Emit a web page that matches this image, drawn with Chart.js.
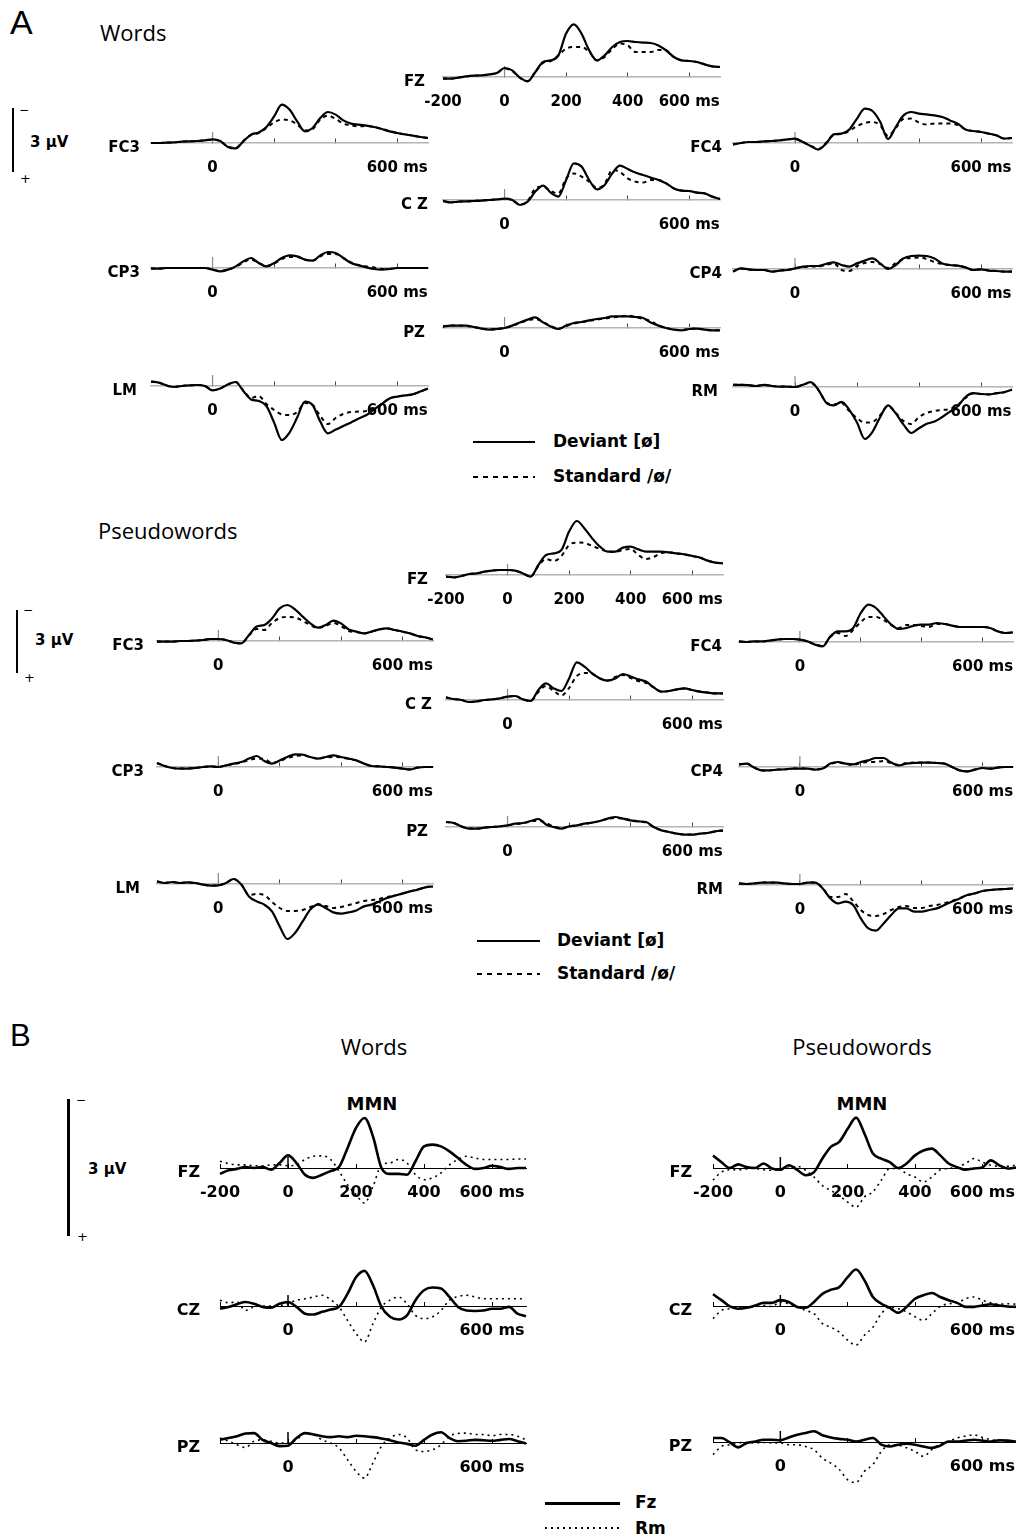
<!DOCTYPE html>
<html>
<head>
<meta charset="utf-8">
<script src="https://cdn.jsdelivr.net/npm/chart.js@4.4.1/dist/chart.umd.min.js"></script>
<style>
body { margin: 0; background: #fff; }
#page { position: relative; width: 1016px; height: 1539px; overflow: hidden; background: #fff; font-family: "DejaVu Sans", sans-serif; color: #000; }
.t { position: absolute; white-space: nowrap; }
.b { font-weight: bold; }
.big { font-family: "Liberation Sans", Arial, sans-serif; }
.head { font-family: "Open Sans", sans-serif; font-size: 22px; line-height: 22px; }
.leg { font-weight: bold; font-size: 17px; line-height: 17px; }
.bar { position: absolute; background: #000; }
canvas { position: absolute; }
</style>
</head>
<body>
<div id="page">
  <!-- panel A, words -->
  <div class="t big" style="left:10px;top:5px;font-size:34px;line-height:34px">A</div>
  <div class="t head" style="left:100px;top:21px">Words</div>
  <div class="bar" style="left:12px;top:108px;width:2px;height:64px"></div>
  <div class="t" style="left:19px;top:104px;font-size:12px;line-height:12px">−</div>
  <div class="t" style="left:20px;top:172px;font-size:13px;line-height:13px">+</div>
  <div class="t b" style="left:30px;top:135px;font-size:15px;line-height:15px">3 µV</div>
  <div class="bar" style="left:473px;top:441px;width:62px;height:2px"></div>
  <div class="t leg" style="left:553px;top:433px">Deviant [ø]</div>
  <div class="bar" style="left:473px;top:476px;width:62px;height:2px;background:repeating-linear-gradient(90deg,#000 0 5px,transparent 5px 10px)"></div>
  <div class="t leg" style="left:553px;top:468px">Standard /ø/</div>

  <!-- panel A, pseudowords -->
  <div class="t head" style="left:98px;top:519px">Pseudowords</div>
  <div class="bar" style="left:16px;top:610px;width:2px;height:63px"></div>
  <div class="t" style="left:23px;top:604px;font-size:12px;line-height:12px">−</div>
  <div class="t" style="left:24px;top:671px;font-size:13px;line-height:13px">+</div>
  <div class="t b" style="left:35px;top:633px;font-size:15px;line-height:15px">3 µV</div>
  <div class="bar" style="left:477px;top:940px;width:63px;height:2px"></div>
  <div class="t leg" style="left:557px;top:932px">Deviant [ø]</div>
  <div class="bar" style="left:477px;top:973px;width:63px;height:2px;background:repeating-linear-gradient(90deg,#000 0 5px,transparent 5px 10px)"></div>
  <div class="t leg" style="left:557px;top:965px">Standard /ø/</div>

  <!-- panel B -->
  <div class="t big" style="left:10px;top:1020px;font-size:31px;line-height:31px">B</div>
  <div class="t head" style="left:274px;top:1035px;width:200px;text-align:center">Words</div>
  <div class="t head" style="left:762px;top:1035px;width:200px;text-align:center">Pseudowords</div>
  <div class="t b" style="left:322px;top:1095px;width:100px;text-align:center;font-size:18px;line-height:18px">MMN</div>
  <div class="t b" style="left:812px;top:1095px;width:100px;text-align:center;font-size:18px;line-height:18px">MMN</div>
  <div class="bar" style="left:67px;top:1099px;width:2.5px;height:137px"></div>
  <div class="t" style="left:76px;top:1094px;font-size:12px;line-height:12px">−</div>
  <div class="t" style="left:77px;top:1230px;font-size:13px;line-height:13px">+</div>
  <div class="t b" style="left:88px;top:1162px;font-size:15px;line-height:15px">3 µV</div>
  <div class="bar" style="left:545px;top:1502px;width:75px;height:2.5px"></div>
  <div class="t leg" style="left:635px;top:1494px">Fz</div>
  <div class="bar" style="left:545px;top:1527px;width:75px;height:2px;background:repeating-linear-gradient(90deg,#000 0 2px,transparent 2px 6px)"></div>
  <div class="t leg" style="left:635px;top:1520px">Rm</div>
</div>

<script>
// time axis, ms
const times = [-200, -175, -150, -125, -100, -75, -50, -25, 0, 25, 50, 75, 100, 125, 150, 175, 200, 225, 250, 275, 300, 325, 350, 375, 400, 425, 450, 475, 500, 525, 550, 575, 600, 625, 650, 675, 700];
const tickValues = [-200, 0, 200, 400, 600];
const tickLabelsFull = ['-200', '0', '200', '400', '600 ms'];
const tickLabelsShort = ['', '0', '', '', '600 ms'];

// A, words: deviant [ø] / standard /ø/ (µV, negative plotted up)
const wordsFZDev = [0.08, 0.08, 0.03, -0.03, -0.07, -0.08, -0.13, -0.2, -0.45, -0.33, 0.03, 0.22, -0.25, -0.75, -0.83, -1.08, -2.17, -2.63, -2.17, -1.33, -0.83, -1.08, -1.5, -1.75, -1.8, -1.75, -1.72, -1.7, -1.58, -1.33, -1.0, -0.83, -0.8, -0.75, -0.63, -0.53, -0.5];
const wordsFZStd = [0.08, 0.08, 0.03, -0.03, -0.07, -0.08, -0.13, -0.2, -0.42, -0.3, 0.05, 0.2, -0.25, -0.7, -0.8, -1.08, -1.42, -1.5, -1.5, -1.25, -0.83, -1.0, -1.4, -1.67, -1.58, -1.25, -1.25, -1.25, -1.35, -1.33, -1.0, -0.83, -0.8, -0.75, -0.63, -0.53, -0.5];
const wordsFC3Dev = [0, 0, -0.02, -0.03, -0.07, -0.08, -0.1, -0.13, -0.18, -0.1, 0.2, 0.27, -0.08, -0.42, -0.53, -0.8, -1.33, -1.92, -1.67, -1.08, -0.58, -0.75, -1.25, -1.55, -1.42, -1.13, -0.97, -0.92, -0.87, -0.8, -0.7, -0.58, -0.5, -0.43, -0.37, -0.3, -0.25];
const wordsFC3Std = [0, 0, -0.02, -0.03, -0.07, -0.08, -0.1, -0.13, -0.17, -0.08, 0.18, 0.25, -0.1, -0.4, -0.5, -0.75, -1.03, -1.17, -1.13, -0.92, -0.63, -0.7, -1.17, -1.37, -1.2, -0.97, -0.87, -0.83, -0.85, -0.8, -0.7, -0.6, -0.5, -0.43, -0.37, -0.3, -0.25];
const wordsFC4Dev = [0.08, 0, -0.05, -0.05, -0.08, -0.1, -0.13, -0.18, -0.22, -0.05, 0.15, 0.33, 0.03, -0.43, -0.47, -0.67, -1.22, -1.72, -1.6, -1.05, -0.2, -0.8, -1.38, -1.55, -1.47, -1.43, -1.38, -1.3, -1.13, -0.97, -0.67, -0.6, -0.55, -0.47, -0.38, -0.22, -0.25];
const wordsFC4Std = [0.08, 0, -0.05, -0.05, -0.08, -0.1, -0.13, -0.18, -0.2, -0.05, 0.13, 0.3, 0, -0.4, -0.45, -0.6, -0.85, -1.0, -1.05, -0.88, -0.35, -0.75, -1.2, -1.22, -1.02, -0.92, -0.97, -0.97, -0.97, -0.9, -0.67, -0.6, -0.55, -0.47, -0.38, -0.22, -0.25];
const wordsCZDev = [0.05, 0.12, 0.08, 0.07, 0.05, 0.03, 0, -0.03, -0.07, 0, 0.25, 0.08, -0.42, -0.72, -0.37, -0.17, -1.0, -1.83, -1.67, -1.0, -0.53, -0.75, -1.33, -1.72, -1.55, -1.37, -1.25, -1.12, -1.0, -0.83, -0.58, -0.47, -0.45, -0.37, -0.33, -0.17, -0.05];
const wordsCZStd = [0.05, 0.12, 0.08, 0.07, 0.05, 0.03, 0, -0.03, -0.07, 0, 0.22, 0.05, -0.58, -0.67, -0.45, -0.33, -1.08, -1.33, -1.17, -0.92, -0.6, -0.8, -1.5, -1.4, -1.08, -0.92, -0.87, -1.0, -1.0, -0.83, -0.58, -0.47, -0.45, -0.37, -0.33, -0.17, -0.05];
const wordsCP3Dev = [0.03, 0.03, 0, 0, 0, 0, 0, 0, 0.08, 0.17, 0.08, -0.08, -0.33, -0.5, -0.25, -0.08, -0.25, -0.5, -0.63, -0.58, -0.42, -0.37, -0.63, -0.8, -0.75, -0.5, -0.25, -0.13, -0.03, 0.05, 0.08, 0.05, 0, 0, 0, 0, 0];
const wordsCP3Std = [0.03, 0.03, 0, 0, 0, 0, 0, 0, 0.08, 0.15, 0.08, -0.05, -0.28, -0.42, -0.25, -0.1, -0.22, -0.45, -0.55, -0.55, -0.42, -0.37, -0.58, -0.7, -0.7, -0.5, -0.28, -0.15, -0.08, -0.03, 0.05, 0.05, 0, 0, 0, 0, 0];
const wordsCP4Dev = [0.13, -0.03, 0.02, 0.05, 0.05, 0.13, 0.08, 0.05, -0.03, -0.12, -0.15, -0.15, -0.25, -0.33, -0.2, -0.12, -0.28, -0.42, -0.53, -0.28, 0, -0.2, -0.53, -0.65, -0.67, -0.65, -0.53, -0.28, -0.2, -0.17, -0.08, 0.05, 0.02, 0.08, 0.1, 0.13, 0.13];
const wordsCP4Std = [0.13, -0.03, 0.02, 0.05, 0.05, 0.13, 0.08, 0.05, -0.03, -0.1, -0.12, -0.12, -0.2, -0.28, 0.05, 0.1, -0.15, -0.3, -0.35, -0.25, -0.05, -0.3, -0.5, -0.55, -0.58, -0.5, -0.35, -0.25, -0.2, -0.17, -0.08, 0.05, 0.02, 0.08, 0.1, 0.13, 0.13];
const wordsPZDev = [-0.08, -0.12, -0.12, -0.12, -0.05, 0.03, 0.08, 0.05, 0, -0.12, -0.28, -0.42, -0.53, -0.28, -0.08, 0.05, -0.12, -0.25, -0.3, -0.38, -0.45, -0.5, -0.58, -0.58, -0.58, -0.55, -0.5, -0.28, -0.12, 0, 0.08, 0.12, 0.05, 0.03, 0.08, 0.12, 0.12];
const wordsPZStd = [-0.08, -0.12, -0.12, -0.1, -0.05, 0.03, 0.07, 0.05, 0, -0.1, -0.25, -0.38, -0.45, -0.3, -0.1, 0.03, -0.1, -0.22, -0.3, -0.35, -0.42, -0.48, -0.52, -0.58, -0.62, -0.55, -0.45, -0.35, -0.12, 0, 0.08, 0.1, 0.05, 0.03, 0.08, 0.1, 0.12];
const wordsLMDev = [-0.22, -0.17, -0.03, 0.05, 0, -0.03, -0.05, 0, 0.22, 0.12, -0.08, -0.2, 0.25, 0.67, 0.75, 1.0, 1.83, 2.7, 2.33, 1.58, 0.78, 0.95, 1.78, 2.37, 2.18, 2.0, 1.82, 1.63, 1.45, 1.17, 0.9, 0.62, 0.53, 0.47, 0.42, 0.28, 0.12];
const wordsLMStd = [-0.22, -0.17, -0.03, 0.05, 0, -0.03, -0.05, 0, 0.2, 0.12, -0.08, -0.2, 0.22, 0.6, 0.5, 0.9, 1.2, 1.42, 1.45, 1.3, 0.85, 0.95, 1.5, 1.9, 1.6, 1.4, 1.3, 1.28, 1.25, 1.15, 0.9, 0.62, 0.53, 0.47, 0.42, 0.28, 0.12];
const wordsRMDev = [-0.11, -0.11, -0.09, -0.05, -0.11, -0.05, -0.02, -0.02, 0, -0.11, -0.24, 0.13, 0.77, 0.92, 0.74, 1.14, 1.78, 2.6, 2.24, 1.5, 0.92, 1.32, 1.88, 2.3, 2.06, 1.84, 1.73, 1.5, 1.23, 0.96, 0.5, 0.31, 0.35, 0.37, 0.31, 0.26, 0.13];
const wordsRMStd = [-0.11, -0.11, -0.09, -0.05, -0.11, -0.05, -0.02, -0.02, 0, -0.11, -0.22, 0.15, 0.75, 0.88, 0.8, 1.2, 1.55, 1.78, 1.75, 1.4, 0.95, 1.3, 1.7, 1.85, 1.5, 1.3, 1.2, 1.15, 1.1, 0.9, 0.55, 0.31, 0.35, 0.37, 0.31, 0.26, 0.13];

// A, pseudowords
const pseudoFZDev = [0.08, 0.12, 0.05, -0.05, -0.08, -0.17, -0.22, -0.25, -0.25, -0.22, -0.08, 0.08, -0.5, -1.0, -1.08, -1.25, -2.17, -2.7, -2.33, -1.83, -1.42, -1.17, -1.17, -1.37, -1.42, -1.28, -1.17, -1.17, -1.17, -1.13, -1.08, -1.03, -0.95, -0.87, -0.72, -0.62, -0.58];
const pseudoFZStd = [0.08, 0.12, 0.05, -0.05, -0.08, -0.17, -0.22, -0.25, -0.25, -0.22, -0.08, 0.08, -0.45, -0.8, -0.7, -0.95, -1.5, -1.62, -1.6, -1.45, -1.3, -1.17, -1.15, -1.25, -1.3, -1.0, -0.8, -0.9, -1.1, -1.13, -1.08, -1.03, -0.95, -0.87, -0.72, -0.62, -0.58];
const pseudoFC3Dev = [0.03, 0.03, 0.03, 0, 0, -0.02, -0.05, -0.1, -0.1, -0.05, 0.08, 0.12, -0.3, -0.72, -0.8, -1.13, -1.63, -1.8, -1.58, -1.22, -0.88, -0.67, -0.8, -1.02, -0.88, -0.58, -0.47, -0.38, -0.47, -0.58, -0.63, -0.55, -0.47, -0.38, -0.25, -0.18, -0.08];
const pseudoFC3Std = [0.03, 0.03, 0.03, 0, 0, -0.02, -0.05, -0.1, -0.1, -0.05, 0.08, 0.12, -0.28, -0.6, -0.55, -0.9, -1.15, -1.2, -1.18, -1.0, -0.8, -0.65, -0.75, -0.9, -0.75, -0.5, -0.45, -0.38, -0.47, -0.58, -0.63, -0.55, -0.47, -0.38, -0.25, -0.18, -0.08];
const pseudoFC4Dev = [-0.03, 0, -0.03, -0.03, -0.07, -0.12, -0.15, -0.15, -0.12, -0.03, 0.13, 0.22, -0.28, -0.53, -0.53, -0.7, -1.45, -1.87, -1.7, -1.28, -0.87, -0.65, -0.7, -0.82, -0.87, -0.87, -0.95, -0.9, -0.82, -0.75, -0.75, -0.75, -0.75, -0.7, -0.53, -0.45, -0.48];
const pseudoFC4Std = [-0.03, 0, -0.03, -0.03, -0.07, -0.12, -0.15, -0.15, -0.12, -0.03, 0.12, 0.2, -0.25, -0.45, -0.3, -0.6, -1.0, -1.25, -1.25, -1.1, -0.85, -0.7, -0.85, -0.85, -0.8, -0.75, -0.9, -0.9, -0.82, -0.75, -0.75, -0.75, -0.75, -0.7, -0.53, -0.45, -0.48];
const pseudoCZDev = [-0.13, -0.05, 0, 0.1, 0.07, 0, -0.03, -0.08, -0.17, -0.2, -0.03, 0.05, -0.5, -0.83, -0.58, -0.45, -1.08, -1.88, -1.67, -1.33, -1.08, -0.97, -1.08, -1.3, -1.17, -1.03, -0.92, -0.63, -0.42, -0.45, -0.53, -0.58, -0.5, -0.42, -0.37, -0.33, -0.33];
const pseudoCZStd = [-0.13, -0.05, 0, 0.1, 0.07, 0, -0.03, -0.08, -0.17, -0.2, -0.03, 0.05, -0.4, -0.7, -0.45, -0.22, -0.6, -1.2, -1.35, -1.3, -1.08, -0.97, -1.15, -1.25, -1.1, -0.95, -0.85, -0.63, -0.42, -0.45, -0.53, -0.58, -0.5, -0.42, -0.37, -0.33, -0.33];
const pseudoCP3Dev = [-0.2, -0.05, 0.05, 0.08, 0.08, 0.05, 0, -0.03, 0, -0.08, -0.17, -0.25, -0.42, -0.55, -0.3, -0.17, -0.33, -0.5, -0.63, -0.62, -0.5, -0.42, -0.5, -0.58, -0.5, -0.42, -0.33, -0.17, -0.05, -0.03, 0, 0.03, 0.08, 0.12, 0.03, 0, 0];
const pseudoCP3Std = [-0.2, -0.05, 0.05, 0.08, 0.08, 0.05, 0, -0.03, 0, -0.08, -0.15, -0.22, -0.35, -0.42, -0.4, -0.2, -0.3, -0.45, -0.55, -0.58, -0.5, -0.42, -0.48, -0.5, -0.48, -0.4, -0.33, -0.17, -0.05, -0.03, 0, 0.03, 0.08, 0.12, 0.03, 0, 0];
const pseudoCP4Dev = [-0.13, -0.17, 0.03, 0.17, 0.17, 0.13, 0.12, 0.08, 0.08, 0.08, 0.13, 0.08, -0.17, -0.25, -0.17, -0.13, -0.25, -0.33, -0.45, -0.45, -0.22, -0.08, -0.17, -0.2, -0.22, -0.22, -0.2, -0.17, 0, 0.17, 0.22, 0.13, 0.05, 0.08, 0.03, 0, 0];
const pseudoCP4Std = [-0.13, -0.17, 0.03, 0.17, 0.17, 0.13, 0.12, 0.08, 0.08, 0.08, 0.13, 0.08, -0.15, -0.22, -0.15, -0.1, -0.2, -0.25, -0.25, -0.3, -0.2, -0.1, -0.2, -0.22, -0.22, -0.22, -0.2, -0.17, 0, 0.17, 0.22, 0.13, 0.05, 0.08, 0.03, 0, 0];
const pseudoPZDev = [-0.25, -0.2, -0.03, 0.08, 0.08, 0.03, 0, -0.03, -0.08, -0.17, -0.2, -0.3, -0.4, -0.13, 0, 0.08, -0.03, -0.08, -0.17, -0.22, -0.3, -0.42, -0.5, -0.42, -0.33, -0.28, -0.25, 0, 0.17, 0.25, 0.33, 0.38, 0.38, 0.33, 0.3, 0.22, 0.17];
const pseudoPZStd = [-0.25, -0.2, -0.03, 0.08, 0.08, 0.03, 0, -0.03, -0.08, -0.15, -0.18, -0.28, -0.32, -0.2, -0.02, 0.05, -0.03, -0.08, -0.15, -0.22, -0.3, -0.4, -0.45, -0.42, -0.35, -0.28, -0.22, 0, 0.15, 0.25, 0.33, 0.38, 0.38, 0.33, 0.3, 0.22, 0.17];
const pseudoLMDev = [-0.13, -0.05, -0.1, -0.05, -0.08, -0.05, 0.03, 0.08, 0.07, -0.05, -0.25, 0.03, 0.62, 0.87, 1.03, 1.37, 2.12, 2.75, 2.45, 1.87, 1.28, 1.03, 1.2, 1.42, 1.48, 1.42, 1.32, 1.12, 1.03, 0.87, 0.7, 0.58, 0.48, 0.37, 0.28, 0.17, 0.12];
const pseudoLMStd = [-0.13, -0.05, -0.1, -0.05, -0.08, -0.05, 0.03, 0.08, 0.07, -0.05, -0.25, 0.03, 0.55, 0.5, 0.55, 0.9, 1.2, 1.35, 1.35, 1.3, 1.15, 1.0, 1.1, 1.2, 1.15, 1.05, 0.95, 0.85, 0.8, 0.75, 0.65, 0.58, 0.48, 0.37, 0.28, 0.17, 0.12];
const pseudoRMDev = [-0.08, -0.05, -0.08, -0.12, -0.12, -0.12, -0.08, -0.05, -0.05, -0.12, -0.12, 0.17, 0.67, 0.92, 0.83, 1.0, 1.67, 2.17, 2.28, 1.92, 1.5, 1.17, 1.17, 1.33, 1.33, 1.25, 1.17, 1.0, 0.83, 0.67, 0.5, 0.42, 0.3, 0.25, 0.22, 0.2, 0.17];
const pseudoRMStd = [-0.08, -0.05, -0.08, -0.12, -0.12, -0.12, -0.08, -0.05, -0.05, -0.12, -0.12, 0.15, 0.6, 0.6, 0.45, 0.8, 1.25, 1.5, 1.55, 1.45, 1.25, 1.1, 1.05, 1.15, 1.15, 1.05, 1.0, 0.9, 0.8, 0.67, 0.5, 0.42, 0.3, 0.25, 0.22, 0.2, 0.17];

// B, MMN difference waves: Fz reference / Rm reference
const mmnWordsFZ_Fz = [0.13, 0.05, 0.02, -0.02, 0, -0.02, 0.04, -0.11, -0.28, -0.11, 0.15, 0.22, 0.15, 0.07, -0.02, -0.44, -0.89, -1.11, -0.7, 0, 0.13, 0.13, 0.15, -0.15, -0.48, -0.52, -0.48, -0.37, -0.22, -0.07, 0.02, 0, -0.05, -0.02, 0.02, 0, 0];
const mmnWordsFZ_Rm = [-0.15, -0.1, -0.07, -0.07, -0.05, -0.05, -0.07, -0.07, -0.05, -0.07, -0.19, -0.26, -0.27, -0.19, 0.07, 0.37, 0.59, 0.78, 0.41, -0.07, -0.11, -0.19, -0.11, 0.15, 0.26, 0.22, 0.11, -0.07, -0.19, -0.26, -0.22, -0.19, -0.19, -0.19, -0.19, -0.2, -0.2];
const mmnWordsCZ_Fz = [0.06, 0.02, -0.04, -0.09, -0.05, 0.02, 0.04, -0.05, -0.09, 0.02, 0.17, 0.19, 0.13, 0.08, 0.02, -0.27, -0.64, -0.78, -0.46, 0.02, 0.24, 0.3, 0.21, -0.13, -0.35, -0.41, -0.39, -0.2, 0.02, 0.1, 0.11, 0.1, 0.06, 0.06, 0.02, 0.17, 0.23];
const mmnWordsCZ_Rm = [-0.13, -0.07, -0.09, 0.1, 0.02, 0, 0, -0.01, -0.05, -0.13, -0.16, -0.2, -0.24, -0.14, 0.02, 0.32, 0.61, 0.8, 0.39, 0.02, -0.13, -0.2, -0.05, 0.21, 0.28, 0.24, 0.1, -0.13, -0.21, -0.24, -0.2, -0.16, -0.16, -0.16, -0.16, -0.16, -0.16];
const mmnWordsPZ_Fz = [-0.07, -0.11, -0.15, -0.21, -0.22, -0.07, 0, 0.07, 0.06, -0.11, -0.22, -0.19, -0.15, -0.13, -0.15, -0.13, -0.16, -0.15, -0.13, -0.1, -0.06, -0.01, 0.02, 0.06, -0.07, -0.19, -0.24, -0.11, -0.04, -0.05, -0.07, -0.06, -0.05, -0.07, -0.09, -0.04, 0.01];
const mmnWordsPZ_Rm = [-0.11, -0.04, 0.04, 0.1, -0.04, -0.07, -0.04, 0, 0, -0.07, -0.22, -0.19, -0.07, 0, 0.11, 0.37, 0.63, 0.78, 0.44, 0.07, -0.11, -0.19, -0.11, 0.15, 0.19, 0.15, 0.04, -0.15, -0.21, -0.22, -0.19, -0.19, -0.16, -0.19, -0.19, -0.15, -0.07];
const mmnPseudoFZ_Fz = [-0.28, -0.13, 0, -0.08, -0.02, 0, -0.1, 0.01, 0.04, -0.06, 0.04, 0.16, 0.09, -0.21, -0.47, -0.58, -0.87, -1.12, -0.76, -0.32, -0.21, -0.13, 0, -0.1, -0.28, -0.39, -0.43, -0.28, -0.1, -0.02, 0.04, 0.01, -0.01, -0.17, -0.06, 0.01, -0.01];
const mmnPseudoFZ_Rm = [0.27, 0.09, 0.04, 0.04, 0.02, 0.01, 0.04, 0.05, 0.04, 0, -0.04, 0.05, 0.2, 0.39, 0.5, 0.61, 0.76, 0.87, 0.64, 0.53, 0.27, 0.01, 0.01, 0.13, 0.2, 0.31, 0.2, 0.04, 0.01, -0.02, -0.1, -0.21, -0.13, -0.06, -0.04, -0.04, -0.06];
const mmnPseudoCZ_Fz = [-0.26, -0.13, 0.01, 0.06, 0.04, -0.01, -0.07, -0.07, -0.13, -0.09, 0.02, 0.04, -0.09, -0.27, -0.36, -0.42, -0.64, -0.81, -0.57, -0.2, -0.05, 0.04, 0.15, 0.02, -0.16, -0.24, -0.29, -0.2, -0.13, -0.07, 0.02, 0.02, -0.01, -0.04, -0.01, 0.01, 0.02];
const mmnPseudoCZ_Rm = [0.28, 0.1, 0.06, 0.04, 0.02, 0.01, -0.01, 0.01, -0.09, -0.05, 0.02, 0.1, 0.17, 0.39, 0.47, 0.58, 0.76, 0.87, 0.65, 0.47, 0.17, 0.02, 0.06, 0.13, 0.24, 0.32, 0.17, 0.01, -0.05, -0.07, -0.16, -0.2, -0.13, -0.07, -0.04, -0.05, -0.04];
const mmnPseudoPZ_Fz = [-0.09, -0.09, 0.01, 0.12, 0.02, -0.01, -0.05, -0.05, -0.04, -0.1, -0.16, -0.2, -0.24, -0.15, -0.1, -0.07, -0.05, -0.01, -0.05, -0.09, 0.06, 0.1, 0.06, 0.04, 0.06, 0.1, 0.13, 0.08, -0.01, -0.01, -0.03, -0.05, -0.03, -0.01, -0.04, -0.03, -0.01];
const mmnPseudoPZ_Rm = [0.28, 0.1, 0.06, 0.02, 0.01, 0.02, 0.01, 0.02, 0.02, 0.06, 0.06, 0.1, 0.17, 0.36, 0.47, 0.61, 0.84, 0.9, 0.65, 0.5, 0.21, 0.06, 0.07, 0.13, 0.21, 0.32, 0.17, 0.04, -0.01, -0.09, -0.13, -0.16, -0.1, -0.05, -0.03, -0.03, -0.01];

// where each little plot sits on the page
const panelA = [
  {name: 'FZ', x0: 443, x1: 720, base: 77, labelRight: 425, full: true, a: wordsFZDev, b: wordsFZStd},
  {name: 'FC3', x0: 151, x1: 428, base: 143, labelRight: 140, a: wordsFC3Dev, b: wordsFC3Std},
  {name: 'FC4', x0: 733, x1: 1012, base: 143, labelRight: 722, a: wordsFC4Dev, b: wordsFC4Std},
  {name: 'C Z', x0: 443, x1: 720, base: 200, labelRight: 428, a: wordsCZDev, b: wordsCZStd},
  {name: 'CP3', x0: 151, x1: 428, base: 268, labelRight: 140, a: wordsCP3Dev, b: wordsCP3Std},
  {name: 'CP4', x0: 733, x1: 1012, base: 269, labelRight: 722, a: wordsCP4Dev, b: wordsCP4Std},
  {name: 'PZ', x0: 443, x1: 720, base: 328, labelRight: 425, a: wordsPZDev, b: wordsPZStd},
  {name: 'LM', x0: 151, x1: 428, base: 386, labelRight: 137, a: wordsLMDev, b: wordsLMStd},
  {name: 'RM', x0: 733, x1: 1012, base: 387, labelRight: 718, a: wordsRMDev, b: wordsRMStd},
  {name: 'FZ', x0: 446, x1: 723, base: 575, labelRight: 428, full: true, a: pseudoFZDev, b: pseudoFZStd},
  {name: 'FC3', x0: 157, x1: 433, base: 641, labelRight: 144, a: pseudoFC3Dev, b: pseudoFC3Std},
  {name: 'FC4', x0: 739, x1: 1013, base: 642, labelRight: 722, a: pseudoFC4Dev, b: pseudoFC4Std},
  {name: 'C Z', x0: 446, x1: 723, base: 700, labelRight: 432, a: pseudoCZDev, b: pseudoCZStd},
  {name: 'CP3', x0: 157, x1: 433, base: 767, labelRight: 144, a: pseudoCP3Dev, b: pseudoCP3Std},
  {name: 'CP4', x0: 739, x1: 1013, base: 767, labelRight: 723, a: pseudoCP4Dev, b: pseudoCP4Std},
  {name: 'PZ', x0: 446, x1: 723, base: 827, labelRight: 428, a: pseudoPZDev, b: pseudoPZStd},
  {name: 'LM', x0: 157, x1: 433, base: 884, labelRight: 140, a: pseudoLMDev, b: pseudoLMStd},
  {name: 'RM', x0: 739, x1: 1013, base: 885, labelRight: 723, a: pseudoRMDev, b: pseudoRMStd}
];
const panelB = [
  {name: 'FZ', x0: 220, x1: 526, base: 1168, labelRight: 200, full: true, a: mmnWordsFZ_Fz, b: mmnWordsFZ_Rm},
  {name: 'CZ', x0: 220, x1: 526, base: 1306, labelRight: 200, a: mmnWordsCZ_Fz, b: mmnWordsCZ_Rm},
  {name: 'PZ', x0: 220, x1: 526, base: 1443, labelRight: 200, a: mmnWordsPZ_Fz, b: mmnWordsPZ_Rm},
  {name: 'FZ', x0: 713, x1: 1016, base: 1168, labelRight: 692, full: true, a: mmnPseudoFZ_Fz, b: mmnPseudoFZ_Rm},
  {name: 'CZ', x0: 713, x1: 1016, base: 1306, labelRight: 692, a: mmnPseudoCZ_Fz, b: mmnPseudoCZ_Rm},
  {name: 'PZ', x0: 713, x1: 1016, base: 1442, labelRight: 692, a: mmnPseudoPZ_Fz, b: mmnPseudoPZ_Rm}
];

const styleA = {ppu: 20, lo: -3.2, hi: 3.4, w1: 2.2, w2: 2, dash: [4, 4], axis: '#b4b4b4', axisW: 1.5,
  tick: '#444', firstTick: false, zero: {color: '#8a8a8a', width: 1.2, len: 11},
  font: 15, pad: 21, labSize: 15, labDy: 4};
const styleB = {ppu: 45, lo: -1.4, hi: 1.2, w1: 2.6, w2: 1.6, dash: [2, 4], axis: '#000', axisW: 1,
  tick: '#000', firstTick: true, zero: {color: '#000', width: 1.5, len: 11},
  font: 16, pad: 20, labSize: 16, labDy: 4};

const page = document.getElementById('page');

// taller mark at stimulus onset
const zeroTick = {
  id: 'zeroTick',
  beforeDatasetsDraw(chart, args, opts) {
    const ctx = chart.ctx;
    const x = chart.scales.x.getPixelForValue(0);
    const y = chart.scales.y.getPixelForValue(0);
    ctx.save();
    ctx.strokeStyle = opts.color;
    ctx.lineWidth = opts.width;
    ctx.beginPath();
    ctx.moveTo(x, y);
    ctx.lineTo(x, y - opts.len);
    ctx.stroke();
    ctx.restore();
  }
};

function points(arr) {
  return times.map((t, i) => ({x: t, y: arr[i]}));
}

function erpPlot(p, s) {
  // padding wide enough that tick label overhang never moves the plot area
  const padL = 50, padR = 34, padT = 2, padB = 2;
  const canvas = document.createElement('canvas');
  canvas.width = p.x1 - p.x0 + padL + padR;
  canvas.height = Math.round((s.hi - s.lo) * s.ppu) + padT + padB;
  canvas.style.left = (p.x0 - padL) + 'px';
  canvas.style.top = Math.round(p.base + s.lo * s.ppu - padT) + 'px';
  page.appendChild(canvas);

  const labels = p.full ? tickLabelsFull : tickLabelsShort;

  new Chart(canvas, {
    type: 'line',
    data: {
      datasets: [
        {data: points(p.a), borderColor: '#000', borderWidth: s.w1, pointRadius: 0, cubicInterpolationMode: 'monotone', clip: false},
        {data: points(p.b), borderColor: '#000', borderWidth: s.w2, borderDash: s.dash, pointRadius: 0, cubicInterpolationMode: 'monotone', clip: false}
      ]
    },
    options: {
      responsive: false,
      animation: false,
      events: [],
      layout: {padding: {left: padL, right: padR, top: padT, bottom: padB}},
      plugins: {legend: {display: false}, tooltip: {enabled: false}, zeroTick: s.zero},
      scales: {
        x: {
          type: 'linear', min: -200, max: 700, position: {y: 0},
          afterBuildTicks: (axis) => { axis.ticks = tickValues.map(v => ({value: v})); },
          border: {display: true, color: s.axis, width: s.axisW},
          grid: {drawOnChartArea: false, drawTicks: true, tickLength: -5, lineWidth: 1,
            tickColor: (c) => (c.tick && c.tick.value === -200 && !s.firstTick) ? 'rgba(0,0,0,0)' : s.tick},
          ticks: {autoSkip: false, maxRotation: 0, padding: s.pad, color: '#000',
            font: {family: 'DejaVu Sans', size: s.font, weight: 'bold'},
            callback: (v, i) => labels[i]}
        },
        y: {type: 'linear', display: false, min: s.lo, max: s.hi, reverse: true}
      }
    },
    plugins: [zeroTick]
  });

  const lab = document.createElement('div');
  lab.className = 't b';
  lab.textContent = p.name;
  lab.style.right = (1016 - p.labelRight) + 'px';
  lab.style.top = (p.base + s.labDy - s.labSize / 2) + 'px';
  lab.style.fontSize = s.labSize + 'px';
  lab.style.lineHeight = s.labSize + 'px';
  page.appendChild(lab);
}

panelA.forEach(p => erpPlot(p, styleA));
panelB.forEach(p => erpPlot(p, styleB));
</script>
</body>
</html>
